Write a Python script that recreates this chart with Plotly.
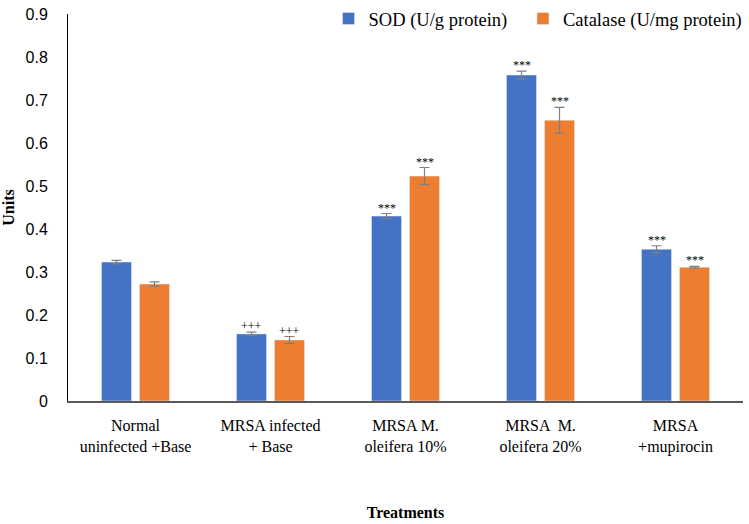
import plotly.graph_objects as go

categories = ["Normal<br>uninfected +Base", "MRSA infected<br>+ Base", "MRSA M.<br>oleifera 10%",
              "MRSA  M.<br>oleifera 20%", "MRSA<br>+mupirocin"]
sod = [0.323, 0.156, 0.430, 0.758, 0.353]
sod_err = [0.004, 0.004, 0.006, 0.009, 0.008]
cat = [0.272, 0.142, 0.523, 0.653, 0.311]
cat_err = [0.005, 0.008, 0.020, 0.030, 0.002]
sod_sig = ["", "+++", "***", "***", "***"]
cat_sig = ["", "+++", "***", "***", "***"]
yticks = [0, 0.1, 0.2, 0.3, 0.4, 0.5, 0.6, 0.7, 0.8, 0.9]
ytick_text = ["0", "0.1", "0.2", "0.3", "0.4", "0.5", "0.6", "0.7", "0.8", "0.9"]

serif = "Liberation Serif"
fig = go.Figure()
fig.add_trace(go.Bar(x=categories, y=sod, name="SOD (U/g protein)", marker_color="#4472C4",
                     legend="legend",
                     error_y=dict(type="data", array=sod_err, color="#7f7f7f", thickness=1.2, width=5)))
fig.add_trace(go.Bar(x=categories, y=cat, name="Catalase (U/mg protein)", marker_color="#ED7D31",
                     legend="legend2",
                     error_y=dict(type="data", array=cat_err, color="#7f7f7f", thickness=1.2, width=5)))

for i, c in enumerate(categories):
    if sod_sig[i]:
        fig.add_annotation(x=c, y=sod[i] + sod_err[i], text=sod_sig[i], showarrow=False,
                           xshift=-19, yanchor="bottom", yshift=-3,
                           font=dict(family=serif, size=12, color="#000"))
    if cat_sig[i]:
        fig.add_annotation(x=c, y=cat[i] + cat_err[i], text=cat_sig[i], showarrow=False,
                           xshift=19, yanchor="bottom", yshift=-3,
                           font=dict(family=serif, size=12, color="#000"))

plot_h = 401
dom_top = (plot_h - 14) / plot_h
leg_font = dict(family=serif, size=18.5, color="#000")
fig.update_layout(
    width=749, height=524,
    margin=dict(l=68, r=6, t=0, b=524 - plot_h),
    plot_bgcolor="white", paper_bgcolor="white",
    barmode="group", bargap=0.437, bargroupgap=0.21,
    showlegend=True,
    legend=dict(orientation="h", x=0.386, y=1, xanchor="left", yanchor="top",
                font=leg_font, bgcolor="rgba(0,0,0,0)"),
    legend2=dict(orientation="h", x=0.674, y=1, xanchor="left", yanchor="top",
                 font=leg_font, bgcolor="rgba(0,0,0,0)"),
    xaxis=dict(showline=True, linecolor="#595959", linewidth=1.5, ticks="", automargin=False,
               ticklabelstandoff=9,
               tickfont=dict(family=serif, size=16, color="#000"),
               title=dict(text="<b>Treatments</b>", font=dict(family=serif, size=16, color="#000"),
                          standoff=52)),
    yaxis=dict(range=[0, 0.9], domain=[0, dom_top], tickvals=yticks, ticktext=ytick_text,
               showgrid=False, automargin=False, ticklabelstandoff=16,
               showline=True, linecolor="#000", linewidth=1, ticks="", zeroline=False,
               tickfont=dict(family="Liberation Sans", size=16, color="#000"),
               title=dict(text="<b>Units</b>", font=dict(family=serif, size=16, color="#000"),
                          standoff=14)),
)

fig.write_html("out.html", config={"displayModeBar": False},
               post_script="document.body.style.margin='0';")
